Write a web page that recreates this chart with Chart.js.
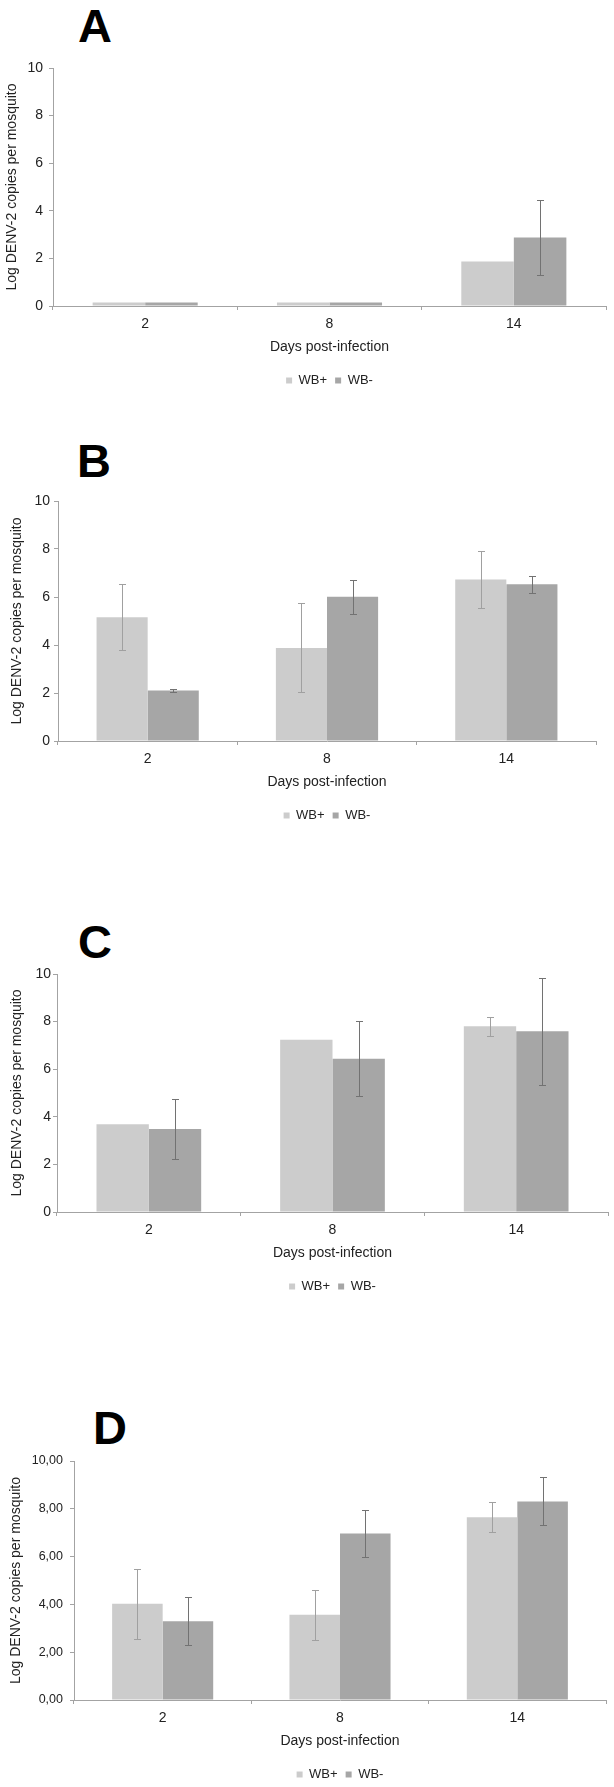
<!DOCTYPE html>
<html>
<head>
<meta charset="utf-8">
<script src="https://cdn.jsdelivr.net/npm/chart.js@4.4.1/dist/chart.umd.min.js"></script>
<style>
  body { margin: 0; background: #fff; }
  #page { position: relative; width: 614px; height: 1787px; overflow: hidden; background: #fff; }
  canvas { position: absolute; left: 0; }
  .letter { position: absolute; font: bold 47px/47px "Liberation Sans", Arial, sans-serif; color: #000; }
</style>
</head>
<body>
<div id="page">
  <div class="letter" style="left:78px;top:2px">A</div>
  <div class="letter" style="left:77px;top:437px">B</div>
  <div class="letter" style="left:78px;top:918px">C</div>
  <div class="letter" style="left:93px;top:1404px">D</div>
  <canvas id="chartA"></canvas>
  <canvas id="chartB"></canvas>
  <canvas id="chartC"></canvas>
  <canvas id="chartD"></canvas>
</div>
<script>
// shared
const days = ["2", "8", "14"];
const seriesNames = ["WB+", "WB-"];
const yTickLabels = ["0", "2", "4", "6", "8", "10"];
const yTickLabelsD = ["0,00", "2,00", "4,00", "6,00", "8,00", "10,00"];

// panel A
const wbPlusA = [0.15, 0.15, 1.87];
const wbMinusA = [0.15, 0.15, 2.88];
const errPlusA = [null, null, null];
const errMinusA = [null, null, 1.58];

// panel B
const wbPlusB = [5.16, 3.88, 6.73];
const wbMinusB = [2.10, 6.01, 6.53];
const errPlusB = [1.37, 1.85, 1.2];
const errMinusB = [0.05, 0.71, 0.36];

// panel C
const wbPlusC = [3.69, 7.24, 7.80];
const wbMinusC = [3.49, 6.44, 7.59];
const errPlusC = [null, null, 0.41];
const errMinusC = [1.25, 1.58, 2.26];

// panel D
const wbPlusD = [4.03, 3.57, 7.65];
const wbMinusD = [3.30, 6.97, 8.31];
const errPlusD = [1.46, 1.05, 0.63];
const errMinusD = [1.0, 1.0, 1.0];

const barColors = ["#cccccc", "#a6a6a6"];
const errColors = ["#a0a0a0", "#727272"];
const axisColor = "#a3a3a3";
const textColor = "#222222";

Chart.defaults.font.family = '"Liberation Sans", Arial, sans-serif';

const errorBars = {
  id: "errorBars",
  afterDatasetsDraw(chart) {
    const ctx = chart.ctx;
    const y = chart.scales.y;
    chart.data.datasets.forEach((ds, di) => {
      const meta = chart.getDatasetMeta(di);
      ctx.save();
      ctx.strokeStyle = errColors[di];
      ctx.lineWidth = 1;
      meta.data.forEach((bar, i) => {
        const e = ds.errors[i];
        if (e == null) return;
        const x = Math.round(bar.x) + 0.5;
        const yTop = Math.round(y.getPixelForValue(ds.data[i] + e)) + 0.5;
        const yBot = Math.round(y.getPixelForValue(ds.data[i] - e)) + 0.5;
        ctx.beginPath();
        ctx.moveTo(x, yTop); ctx.lineTo(x, yBot);
        ctx.moveTo(x - 3.5, yTop); ctx.lineTo(x + 3.5, yTop);
        ctx.moveTo(x - 3.5, yBot); ctx.lineTo(x + 3.5, yBot);
        ctx.stroke();
      });
      ctx.restore();
    });
  }
};

function drawPanel(id, plus, minus, errPlus, errMinus, tickLabels, lay) {
  const padTop = 20;
  const canvas = document.getElementById(id);
  canvas.width = 614;
  canvas.height = padTop + (lay.bottom - lay.top) + 60 + 29;
  canvas.style.top = (lay.top - padTop) + "px";

  return new Chart(canvas, {
    type: "bar",
    plugins: [errorBars],
    data: {
      labels: days,
      datasets: [
        { label: seriesNames[0], data: plus, errors: errPlus, backgroundColor: barColors[0],
          barPercentage: 1, categoryPercentage: 0.57 },
        { label: seriesNames[1], data: minus, errors: errMinus, backgroundColor: barColors[1],
          barPercentage: 1, categoryPercentage: 0.57 },
      ],
    },
    options: {
      responsive: false,
      animation: false,
      layout: { padding: { top: padTop, right: 614 - lay.right, left: 0, bottom: 0 } },
      plugins: {
        tooltip: { enabled: false },
        legend: {
          position: "bottom",
          fullSize: false,
          labels: { boxWidth: 6, boxHeight: 6, padding: 8, color: textColor, font: { size: 13 } },
        },
      },
      scales: {
        x: {
          grid: { drawOnChartArea: false, tickLength: 4, color: axisColor },
          border: { color: axisColor },
          ticks: { padding: 6, color: textColor, font: { size: 14 } },
          title: { display: true, text: "Days post-infection", color: textColor,
                   font: { size: 14 }, padding: { top: 0, bottom: 10.6 } },
          afterFit: (s) => { s.height = 60; },
        },
        y: {
          min: 0,
          max: 10,
          grid: { drawOnChartArea: false, tickLength: 4, color: axisColor },
          border: { color: axisColor },
          ticks: { stepSize: 2, padding: lay.tickPad, color: textColor, font: { size: lay.tickFont },
                   callback: (v, i) => tickLabels[i] },
          title: { display: true, text: "Log DENV-2 copies per mosquito", color: textColor,
                   font: { size: 14 }, padding: { top: lay.titleX - 8.4, bottom: 0 } },
          afterFit: (s) => { s.width = lay.left; },
        },
      },
    },
  });
}

drawPanel("chartA", wbPlusA, wbMinusA, errPlusA, errMinusA, yTickLabels,
  { top: 68, bottom: 308, left: 53, right: 606, titleX: 12.5, tickPad: 6, tickFont: 14 });
drawPanel("chartB", wbPlusB, wbMinusB, errPlusB, errMinusB, yTickLabels,
  { top: 501, bottom: 743, left: 58, right: 596, titleX: 17.5, tickPad: 4, tickFont: 14 });
drawPanel("chartC", wbPlusC, wbMinusC, errPlusC, errMinusC, yTickLabels,
  { top: 974, bottom: 1214, left: 57, right: 608, titleX: 17, tickPad: 2, tickFont: 14 });
drawPanel("chartD", wbPlusD, wbMinusD, errPlusD, errMinusD, yTickLabelsD,
  { top: 1461, bottom: 1702, left: 74, right: 606, titleX: 16, tickPad: 7, tickFont: 12.5 });
</script>
</body>
</html>
